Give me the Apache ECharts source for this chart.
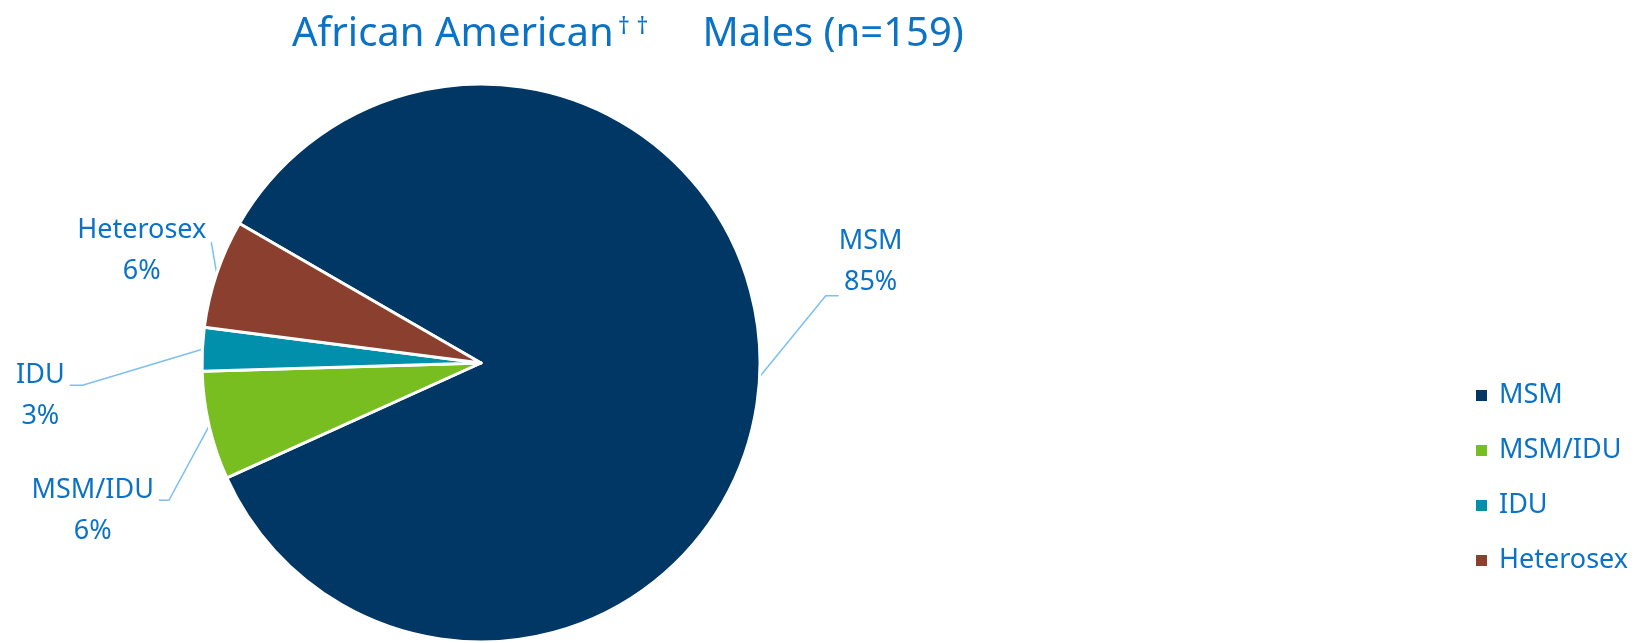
<!DOCTYPE html>
<html>
<head>
<meta charset="utf-8">
<script src="https://cdn.jsdelivr.net/npm/echarts@6/dist/echarts.min.js"></script>
<style>
  html, body { margin: 0; padding: 0; background: #fff; }
  #main { width: 1650px; height: 643px; }
</style>
</head>
<body>
<div id="main"></div>
<script>
// risk groups, counts out of n=159
var categories = ['MSM', 'MSM/IDU', 'IDU', 'Heterosex'];
var counts = [135, 10, 4, 10];
var colors = ['#003764', '#78be21', '#0190ab', '#8b3f2e'];

var textBlue = '#0b72c6';
// label placement relative to default spot, and leader line tweaks
var labelShift = [[76, -116], [-82, 80], [-127, 48], [-41, -16]];
var leaderAttachY = [34, -10, -11, -9];
var leaderElbow = [13, 10, 13, 0];

var chart = echarts.init(document.getElementById('main'));

var pieData = categories.map(function (name, i) {
  return { name: name, value: counts[i], itemStyle: { color: colors[i] } };
});

var option = {
  backgroundColor: '#fff',
  title: {
    text: 'African American{sup|† †}Males (n=159)',
    left: 287,
    top: 10,
    textStyle: {
      fontFamily: 'Noto Sans',
      fontSize: 40,
      fontWeight: 'normal',
      color: textBlue,
      rich: {
        sup: { fontFamily: 'Noto Sans', fontSize: 24, color: textBlue, verticalAlign: 'top', padding: [0, 54, 16, 4] }
      }
    }
  },
  legend: {
    orient: 'vertical',
    left: 1469,
    top: 377,
    itemWidth: 13,
    itemHeight: 13,
    itemGap: 28,
    icon: 'rect',
    textStyle: { fontFamily: 'Noto Sans', fontSize: 27, lineHeight: 27, color: textBlue, padding: [0, 0, 0, 6] },
    data: categories
  },
  series: [{
    type: 'pie',
    center: [481, 363],
    radius: 279,
    startAngle: 150,
    clockwise: true,
    animation: false,
    avoidLabelOverlap: false,
    itemStyle: { borderColor: '#fff', borderWidth: 3 },
    label: {
      show: true,
      position: 'outside',
      fontFamily: 'Noto Sans',
      fontSize: 27,
      lineHeight: 41,
      color: textBlue,
      formatter: function (p) { return p.name + '\n' + Math.round(p.percent) + '%'; }
    },
    labelLine: {
      show: true,
      length: 20,
      length2: 10,
      lineStyle: { color: '#7cbff5', width: 1.5 }
    },
    labelLayout: function (p) {
      var i = p.dataIndex;
      var s = labelShift[i];
      var pts = p.labelLinePoints;
      var out = {align: 'center', verticalAlign: 'middle', dx: s[0], dy: s[1]};
      if (!pts) return out;
      var left = pts[2][0] < pts[0][0];
      var cx = pts[2][0] + (left ? -5 : 5) + s[0];
      var cy = pts[2][1] + s[1];
      var w = p.labelRect.width;
      var ex = left ? cx + w / 2 + 5 : cx - w / 2;
      var ey = cy + leaderAttachY[i];
      var mid = [ex + (left ? leaderElbow[i] : -leaderElbow[i]), ey];
      out.labelLinePoints = [pts[0], mid, [ex, ey]];
      return out;
    },
    data: pieData
  }]
};

chart.setOption(option);
</script>
</body>
</html>
